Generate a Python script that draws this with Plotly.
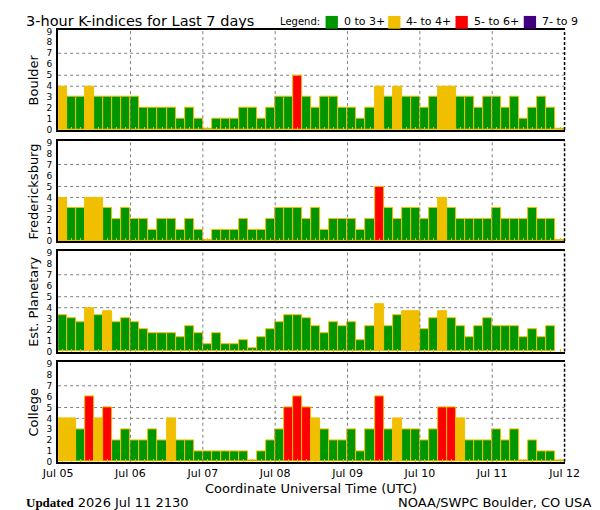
import plotly.graph_objects as go
import pandas as pd

# ---------------- data ----------------
START = "2026-07-05 00:00"
END = "2026-07-12 00:00"
DAY_LABELS = ["Jul 05", "Jul 06", "Jul 07", "Jul 08", "Jul 09", "Jul 10", "Jul 11", "Jul 12"]
STATIONS = ["Boulder", "Fredericksburg", "Est. Planetary", "College"]

boulder = [4, 3, 3, 4, 3, 3, 3, 3, 3, 2, 2, 2, 2, 1, 2, 1, 0, 1, 1, 1, 2, 2, 1, 2, 3, 3, 5, 3,
           2, 3, 3, 2, 2, 1, 2, 4, 3, 4, 3, 3, 2, 3, 4, 4, 3, 3, 2, 3, 3, 2, 3, 1, 2, 3, 2, 0]
fredericksburg = [4, 3, 3, 4, 4, 3, 2, 3, 2, 2, 1, 2, 2, 1, 2, 1, 0, 1, 1, 1, 2, 1, 1, 2, 3, 3, 3, 2,
                  3, 1, 2, 2, 2, 1, 2, 5, 3, 2, 3, 3, 2, 3, 4, 3, 2, 2, 2, 2, 3, 2, 2, 2, 3, 2, 2, 0]
est_planetary = [3.33, 3.0, 2.67, 4.0, 3.33, 3.67, 2.67, 3.0, 2.67, 2.0, 1.67, 1.67, 1.67, 1.33,
                 2.33, 1.67, 0.67, 1.67, 0.67, 0.67, 1.0, 0.33, 1.33, 2.0, 2.67, 3.33, 3.33, 3.0,
                 2.33, 1.67, 2.67, 2.33, 2.67, 1.0, 2.33, 4.33, 2.33, 3.33, 3.67, 3.67, 2.0, 3.0,
                 3.67, 3.0, 2.33, 1.33, 2.33, 3.0, 2.33, 2.33, 2.33, 1.33, 2.0, 1.33, 2.33, None]
college = [4, 4, 3, 6, 4, 5, 2, 3, 2, 2, 3, 2, 4, 2, 2, 1, 1, 1, 1, 1, 1, 0, 1, 2, 3, 5, 6, 5,
           4, 3, 2, 2, 3, 1, 3, 6, 3, 4, 3, 3, 2, 3, 5, 5, 4, 2, 2, 2, 3, 2, 3, 0, 2, 1, 1, 0]
SERIES = [boulder, fredericksburg, est_planetary, college]

LEGEND_LABELS = ["0 to 3+", "4- to 4+", "5- to 6+", "7- to 9"]
LEGEND_COLORS = ["#009600", "#F0C000", "#FF0000", "#400080"]
GRID_LEVELS = [4, 5, 7]
UPDATED = "2026 Jul 11 2130"
CREDIT = "NOAA/SWPC Boulder, CO USA"

# ---------------- helpers ----------------
GREEN, YELLOW, RED, PURPLE = LEGEND_COLORS
OUTLINE = "#F0C000"
BAR_MS = 3 * 3600 * 1000
times = pd.date_range(START, periods=56, freq="3h") + pd.Timedelta(minutes=90)
day_ticks = pd.date_range(START, END, freq="1D")


def kcolor(v):
    if v is None:
        return GREEN
    if v < 3.5:
        return GREEN
    if v < 4.5:
        return YELLOW
    if v < 6.5:
        return RED
    return PURPLE


W, H = 600, 510
x0p, x1p = 36 / W, 570 / W
panels_px = [(19, 121), (132, 234), (244, 346), (357, 458)]

fig = go.Figure()
FONT = "DejaVu Sans"

for i, (name, vals) in enumerate(zip(STATIONS, SERIES)):
    n = "" if i == 0 else str(i + 1)
    top, bot = panels_px[i]
    dom = [1 - bot / H, 1 - top / H]
    # zero values are drawn as a hairline bar, as in the original
    heights = [None if v is None else (v if v > 0 else 0.15) for v in vals]
    fig.add_trace(go.Bar(
        x=times, y=heights, width=BAR_MS,
        marker=dict(color=[kcolor(v) for v in vals],
                    line=dict(color=OUTLINE, width=1)),
        xaxis="x" + n, yaxis="y" + n, showlegend=False,
        customdata=[v for v in vals], hovertemplate="%{x}: %{customdata}<extra></extra>",
    ))
    fig.layout["xaxis" + n] = dict(
        domain=[x0p, x1p], anchor="y" + n, type="date",
        range=[START, END], showgrid=False, zeroline=False,
        showline=True, linecolor="black", linewidth=2, mirror=True,
        tickvals=list(day_ticks), ticktext=DAY_LABELS,
        showticklabels=(i == 3), ticks="",
        tickfont=dict(family=FONT, size=11, color="black"),
        minor=dict(ticks="inside", tick0=str(times[0]), dtick=BAR_MS,
                   ticklen=3, tickcolor=OUTLINE, tickwidth=1, showgrid=False),
        matches=None if i == 0 else "x",
    )
    fig.layout["yaxis" + n] = dict(
        domain=dom, anchor="x" + n, range=[0, 9.15],
        tickvals=list(range(10)), showgrid=False, zeroline=False,
        showline=True, linecolor="black", linewidth=2, ticks="",
        tickfont=dict(family=FONT, size=9, color="black"), ticklabelstandoff=2,
    )
    # dotted horizontal guide lines
    for lv in GRID_LEVELS:
        fig.add_shape(type="line", xref="x" + n + " domain", yref="y" + n,
                      x0=0, x1=1, y0=lv, y1=lv, layer="below",
                      line=dict(color="#808080", width=1, dash="dot"))
    # dotted vertical day lines
    for d in day_ticks[1:-1]:
        fig.add_shape(type="line", xref="x" + n, yref="y" + n + " domain",
                      x0=d, x1=d, y0=0, y1=1, layer="above",
                      line=dict(color="#808080", width=1, dash="dot"))
    # dashed right border
    fig.add_shape(type="line", xref="x" + n + " domain", yref="y" + n + " domain",
                  x0=1, x1=1, y0=0, y1=1, layer="above",
                  line=dict(color="black", width=1.5, dash="3px,2px"))
    fig.add_annotation(text=name, xref="paper", yref="paper",
                       x=10 / W, y=(dom[0] + dom[1]) / 2, textangle=-90,
                       showarrow=False, xanchor="center", yanchor="middle",
                       font=dict(family=FONT, size=13, color="black"))

# title
fig.add_annotation(text="3-hour K-indices for Last 7 days", xref="paper", yref="paper",
                   x=0, y=1 - 10 / H, xanchor="left", yanchor="middle", showarrow=False,
                   font=dict(family=FONT, size=14.5, color="black"))
fig.add_annotation(text="Legend:", xref="paper", yref="paper",
                   x=268 / W, y=1 - 11 / H, xanchor="left", yanchor="middle", showarrow=False,
                   font=dict(family=FONT, size=10, color="black"))
leg_box_x = [318, 384, 455, 527]
for bx, lab, col in zip(leg_box_x, LEGEND_LABELS, LEGEND_COLORS):
    fig.add_shape(type="rect", xref="paper", yref="paper",
                  x0=bx / W, x1=(bx + 13) / W, y0=1 - 18 / H, y1=1 - 5 / H,
                  fillcolor=col, line=dict(width=0))
    fig.add_annotation(text=lab, xref="paper", yref="paper",
                       x=(bx + 17) / W, y=1 - 11 / H, xanchor="left", yanchor="middle",
                       showarrow=False, font=dict(family=FONT, size=11, color="black"))

# axis title and footer
fig.add_annotation(text="Coordinate Universal Time (UTC)", xref="paper", yref="paper",
                   x=303 / W, y=1 - 485 / H, xanchor="center", yanchor="middle", showarrow=False,
                   font=dict(family=FONT, size=13, color="black"))
fig.add_annotation(text="<span style='font-family:Liberation Serif'><b>Updated</b></span> " + UPDATED,
                   xref="paper", yref="paper", x=0, y=1 - 499 / H,
                   xanchor="left", yanchor="middle", showarrow=False,
                   font=dict(family=FONT, size=13, color="black"))
fig.add_annotation(text=CREDIT, xref="paper", yref="paper", x=1, y=1 - 499 / H,
                   xanchor="right", yanchor="middle", showarrow=False,
                   font=dict(family=FONT, size=13, color="black"))

fig.update_layout(width=W, height=H, margin=dict(l=0, r=0, t=0, b=0),
                  paper_bgcolor="white", plot_bgcolor="white",
                  bargap=0, showlegend=False)

fig.write_html("out.html")
